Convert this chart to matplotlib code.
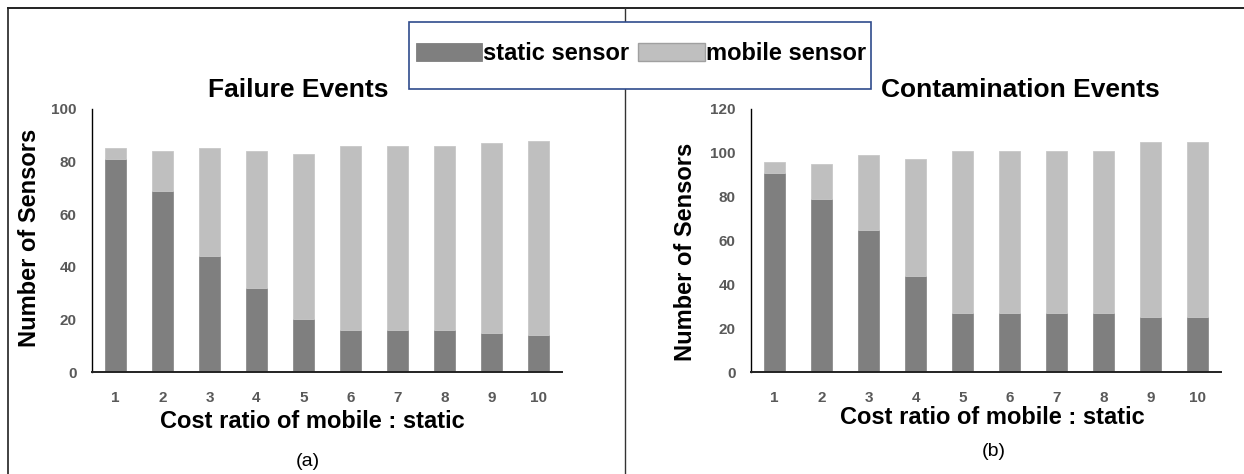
import numpy as np
import matplotlib
matplotlib.use("Agg")
import matplotlib.pyplot as plt
from matplotlib.lines import Line2D
from matplotlib.patches import Rectangle

# data
ratios = ["1", "2", "3", "4", "5", "6", "7", "8", "9", "10"]
fail_static = [81, 69, 44, 32, 20, 16, 16, 16, 15, 14]
fail_mobile = [4, 15, 41, 52, 63, 70, 70, 70, 72, 74]
cont_static = [91, 79, 65, 44, 27, 27, 27, 27, 25, 25]
cont_mobile = [5, 16, 34, 53, 74, 74, 74, 74, 80, 80]

plt.rcParams['font.family'] = ['Liberation Sans', 'DejaVu Sans']

W, H = 1244, 474
fig = plt.figure(figsize=(W / 100, H / 100), dpi=100)

c_static = "#7f7f7f"
c_mobile = "#bfbfbf"
tick_col = "#595959"


def px_axes(x0, y0, x1, y1):
    # pixel box (top-left origin) -> figure axes
    return fig.add_axes([x0 / W, 1 - y1 / H, (x1 - x0) / W, (y1 - y0) / H])


def fig_text(x, y, s, **kw):
    kw.setdefault("ha", "center")
    kw.setdefault("va", "center")
    return fig.text(x / W, 1 - y / H, s, **kw)


def draw_panel(ax, static, mobile, ymax):
    x = np.arange(1, len(ratios) + 1)
    b1 = ax.bar(x, static, width=0.43, color=c_static, edgecolor="#8c8c8c", linewidth=0.6, label="static sensor")
    b2 = ax.bar(x, mobile, width=0.43, bottom=static, color=c_mobile, edgecolor="#c8c8c8", linewidth=0.6,
                label="mobile sensor")
    ax.set_xlim(0.5, len(ratios) + 0.5)
    ax.set_ylim(0, ymax)
    ax.set_xticks(x)
    ax.set_xticklabels(ratios)
    ax.set_yticks(np.arange(0, ymax + 1, 20))
    for s in ["top", "right"]:
        ax.spines[s].set_visible(False)
    ax.spines["left"].set_linewidth(1.0)
    ax.spines["bottom"].set_linewidth(1.4)
    ax.spines["bottom"].set_color("#222222")
    ax.tick_params(axis="both", length=0, labelcolor=tick_col, labelsize=11)
    ax.tick_params(axis="x", pad=14)
    ax.tick_params(axis="y", pad=11)
    for lab in ax.get_xticklabels() + ax.get_yticklabels():
        lab.set_fontweight("bold")
    return b1, b2


ax1 = px_axes(92, 109, 562, 372)
h1 = draw_panel(ax1, fail_static, fail_mobile, 100)
ax2 = px_axes(751, 109, 1221, 372)
draw_panel(ax2, cont_static, cont_mobile, 120)

# titles and labels
fig_text(298, 90, "Failure Events", fontsize=19, fontweight="bold")
fig_text(1020, 90, "Contamination Events", fontsize=19, fontweight="bold")
fig_text(30, 238, "Number of Sensors", rotation=90, fontsize=17, fontweight="bold")
fig_text(686, 252, "Number of Sensors", rotation=90, fontsize=17, fontweight="bold")
fig_text(312, 422, "Cost ratio of mobile : static", fontsize=17, fontweight="bold")
fig_text(992, 417, "Cost ratio of mobile : static", fontsize=17, fontweight="bold")
fig_text(308, 461, "(a)", fontsize=14)
fig_text(994, 451, "(b)", fontsize=14)

# outer frame and divider
fig.add_artist(Line2D([8 / W, 8 / W], [0, 1 - 8 / H], color="#333333", lw=1.3))
fig.add_artist(Line2D([8 / W, 1], [1 - 8 / H, 1 - 8 / H], color="#222222", lw=1.4))
fig.add_artist(Line2D([625 / W, 625 / W], [0, 1 - 8 / H], color="#333333", lw=1.0))

# legend box
fig.add_artist(Rectangle((409 / W, 1 - 89 / H), (871 - 409) / W, (89 - 22) / H,
                         transform=fig.transFigure, facecolor="white", edgecolor="#2f4b8c", lw=1.2, zorder=5))
leg = fig.legend(handles=list(h1), loc="center", bbox_to_anchor=(641 / W, 1 - 54 / H), ncol=2,
                 frameon=False, prop={"weight": "bold", "size": 17}, handlelength=2.8, handleheight=0.8,
                 handletextpad=0.05, columnspacing=0.38, borderpad=0)
leg.set_zorder(6)
leg.legend_handles[0].set_edgecolor(c_static)
leg.legend_handles[1].set_edgecolor("#a0a0a0")
leg.legend_handles[1].set_linewidth(1.0)

fig.savefig("out.png", dpi=100)
